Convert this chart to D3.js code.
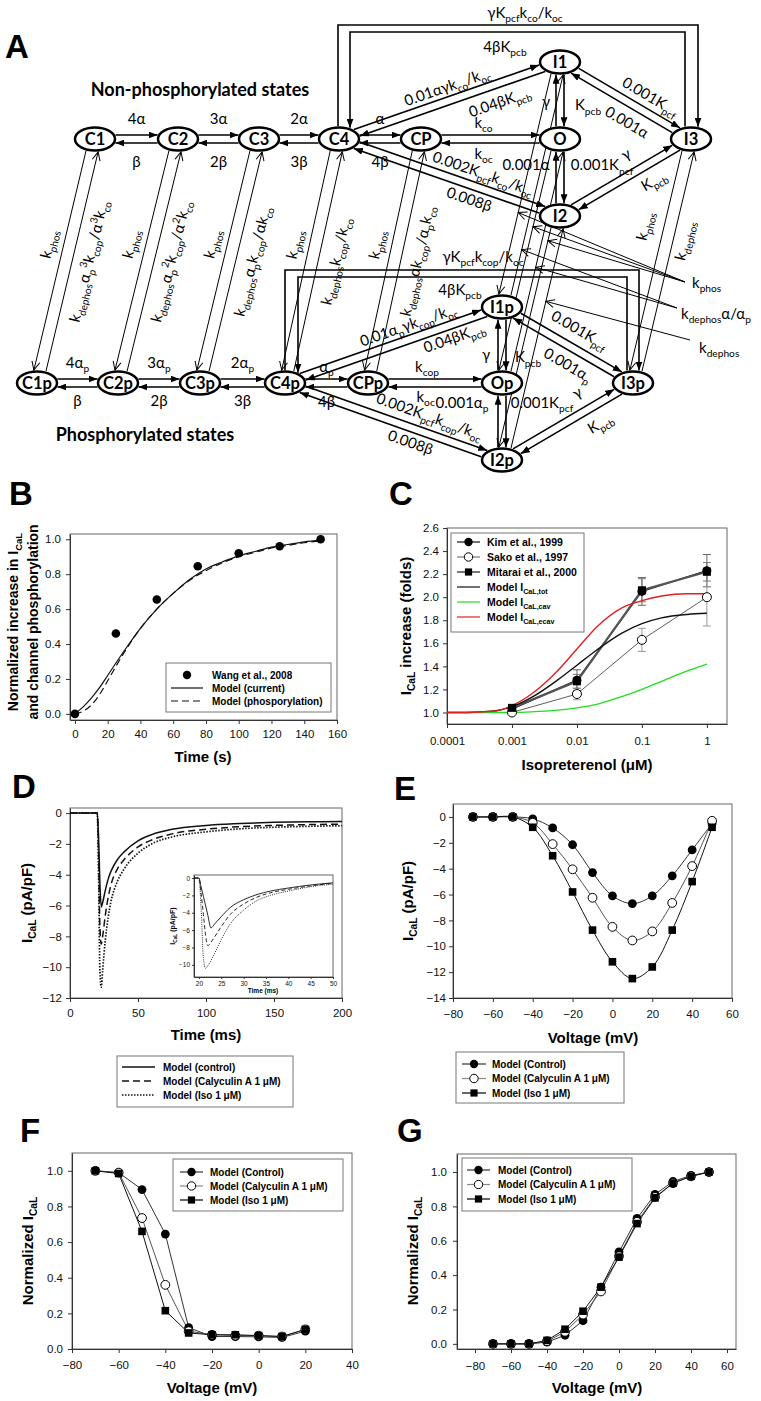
<!DOCTYPE html>
<html><head><meta charset="UTF-8"><title>L-type Ca channel phosphorylation model</title>
<script src="https://cdnjs.cloudflare.com/ajax/libs/d3/7.8.5/d3.min.js"></script>
<style>
  body, html { margin: 0; padding: 0; background: #fff; }
  svg { display: block; }
  text { white-space: pre; }
  .diagram text { font-family: Lato, 'Noto Sans', sans-serif; }
  .chart text { font-family: 'Liberation Sans', Arial, sans-serif; }
</style>
</head>
<body>
<svg id="fig" width="761" height="1401"></svg>
<script>
// ---------- panel A : states and rates ----------
const ratePairs = [ // [from, to, forward rate, backward rate]
  ['C1','C2','4α','β'], ['C2','C3','3α','2β'], ['C3','C4','2α','3β'], ['C4','CP','α','4β'],
  ['CP','O','k_{co}','k_{oc}'], ['O','I1','γ','K_{pcb}'], ['O','I2','0.001K_{pcf}','0.001α'],
  ['I1','I3','0.001K_{pcf}','0.001α'], ['I2','I3','γ','K_{pcb}'],
  ['C4','I1','0.01αγk_{co}/k_{oc}','0.04βK_{pcb}'], ['C4','I2','0.002K_{pcf}k_{co}/k_{oc}','0.008β'],
  ['C1p','C2p','4α_{p}','β'], ['C2p','C3p','3α_{p}','2β'], ['C3p','C4p','2α_{p}','3β'], ['C4p','CPp','α_{p}','4β'],
  ['CPp','Op','k_{cop}','k_{oc}'], ['Op','I1p','γ','K_{pcb}'], ['Op','I2p','0.001K_{pcf}','0.001α_{p}'],
  ['I1p','I3p','0.001K_{pcf}','0.001α_{p}'], ['I2p','I3p','γ','K_{pcb}'],
  ['C4p','I1p','0.01α_{p}γk_{cop}/k_{oc}','0.04βK_{pcb}'], ['C4p','I2p','0.002K_{pcf}k_{cop}/k_{oc}','0.008β']
];
const phosPairs = [ // [non-phosphorylated state, k_phos label, k_dephos label]
  ['C1','k_{phos}','k_{dephos}α_{p}^{3}k_{cop}/α^{3}k_{co}'],
  ['C2','k_{phos}','k_{dephos}α_{p}^{2}k_{cop}/α^{2}k_{co}'],
  ['C3','k_{phos}','k_{dephos}α_{p}k_{cop}/αk_{co}'],
  ['C4','k_{phos}','k_{dephos}k_{cop}/k_{co}'],
  ['CP','k_{phos}','k_{dephos}αk_{cop}/α_{p}k_{co}'],
  ['I1','',''], ['O','',''], ['I2','',''],
  ['I3','k_{phos}','k_{dephos}']
];
const loopRates = [ // [from, to, rate]
  ['C4','I3','γK_{pcf}k_{co}/k_{oc}'], ['I3','C4','4βK_{pcb}'],
  ['C4p','I3p','γK_{pcf}k_{cop}/k_{oc}'], ['I3p','C4p','4βK_{pcb}']
];
const pointerRates = [ // [label, targets: state + which transition]
  ['k_{phos}', [['I1','phos'],['O','phos'],['I2','phos']]],
  ['k_{dephos}α/α_{p}', [['I1','dephos'],['O','dephos']]],
  ['k_{dephos}', [['I2','dephos']]]
];

// ---------- panel B ----------
const bWangTime = [0, 25, 50, 75, 100, 125, 150];
const bWangValue = [0.0, 0.46, 0.655, 0.845, 0.92, 0.96, 1.0];
const bModelTime = [0, 5, 10, 15, 20, 30, 40, 50, 60, 70, 80, 90, 100, 110, 120, 130, 140, 150];
const bModelCurrent = [0, 0.04, 0.09, 0.15, 0.22, 0.36, 0.49, 0.60, 0.69, 0.77, 0.83, 0.87, 0.905, 0.93, 0.955, 0.97, 0.985, 0.995];
const bModelPhos = [0, 0.015, 0.05, 0.11, 0.19, 0.35, 0.49, 0.60, 0.69, 0.765, 0.82, 0.865, 0.90, 0.925, 0.95, 0.965, 0.98, 0.99];

// ---------- panel C ----------
const isoDose = [0.001, 0.01, 0.1, 1];
const kimMean = [1.03, 1.28, 2.05, 2.23];
const kimErr = [0, 0.09, 0.12, 0.14];
const sakoMean = [1.0, 1.16, 1.63, 2.0];
const sakoErr = [0, 0.05, 0.1, 0.25];
const mitaraiMean = [1.04, 1.27, 2.06, 2.22];
const mitaraiErr = [0, 0.06, 0.1, 0.08];
const modelDose = [0.0001, 0.0002, 0.0005, 0.001, 0.002, 0.005, 0.01, 0.02, 0.05, 0.1, 0.2, 0.5, 1];
const modelTot = [1.0, 1.0, 1.01, 1.05, 1.13, 1.28, 1.41, 1.54, 1.69, 1.77, 1.82, 1.85, 1.86];
const modelCav = [1.0, 1.0, 1.0, 1.0, 1.005, 1.02, 1.04, 1.07, 1.14, 1.2, 1.27, 1.36, 1.42];
const modelEcav = [1.0, 1.0, 1.01, 1.06, 1.16, 1.36, 1.55, 1.74, 1.91, 1.97, 2.01, 2.03, 2.03];

// ---------- panel D ----------
const dTime = [0, 19, 20, 21, 22, 23, 24, 26, 28, 30, 35, 40, 50, 60, 75, 100, 125, 150, 175, 200];
const dControl = [0, 0, 0, -1.5, -4.6, -6.1, -5.8, -5.0, -4.3, -3.8, -3.0, -2.5, -1.8, -1.4, -1.05, -0.8, -0.68, -0.6, -0.56, -0.55];
const dCalyculin = [0, 0, 0, -2.6, -7.4, -8.5, -8.0, -6.6, -5.5, -4.7, -3.6, -3.0, -2.2, -1.75, -1.35, -1.05, -0.88, -0.8, -0.75, -0.72];
const dIso = [0, 0, 0, -4.0, -10.3, -11.3, -10.2, -8.2, -6.8, -5.8, -4.4, -3.6, -2.6, -2.0, -1.55, -1.22, -1.02, -0.92, -0.86, -0.82];
const dInsetTime = [19, 20, 20.5, 21, 21.5, 22, 22.7, 23.5, 25, 27, 30, 33, 36, 40, 45, 50];
const dInsetControl = [0, 0, -1.05, -2.1, -3.2, -4.3, -5.75, -5.3, -4.45, -3.4, -2.5, -1.9, -1.5, -1.15, -0.8, -0.55];
const dInsetCalyculin = [0, 0, -1.8, -4.2, -6.6, -7.8, -7.4, -6.8, -5.6, -4.2, -3.0, -2.2, -1.7, -1.3, -0.9, -0.6];
const dInsetIso = [0, 0, -3.6, -9.2, -10.4, -10.1, -9.5, -8.7, -7.1, -5.3, -3.7, -2.6, -2.0, -1.5, -1.0, -0.7];

// ---------- panels E, F, G ----------
const eVoltage = [-70, -60, -50, -40, -30, -20, -10, 0, 10, 20, 30, 40, 50];
const eControl = [0, 0, 0, -0.15, -0.85, -2.15, -4.3, -6.1, -6.7, -6.1, -4.55, -2.55, -0.5];
const eCalyculin = [0, 0, 0, -0.45, -2.1, -4.05, -6.25, -8.5, -9.55, -8.85, -6.65, -3.8, -0.3];
const eIso = [0, 0, 0, -0.8, -3.0, -5.8, -8.75, -11.2, -12.5, -11.6, -8.75, -5.0, -0.8];
const fVoltage = [-70, -60, -50, -40, -30, -20, -10, 0, 10, 20];
const fControl = [1.0, 0.99, 0.895, 0.645, 0.12, 0.07, 0.07, 0.068, 0.065, 0.10];
const fCalyculin = [1.0, 0.99, 0.735, 0.36, 0.10, 0.08, 0.075, 0.075, 0.07, 0.11];
const fIso = [1.0, 0.985, 0.66, 0.215, 0.09, 0.08, 0.08, 0.075, 0.07, 0.11];
const gVoltage = [-70, -60, -50, -40, -30, -20, -10, 0, 10, 20, 30, 40, 50];
const gControl = [0, 0, 0, 0.01, 0.05, 0.135, 0.33, 0.535, 0.73, 0.87, 0.945, 0.98, 1.0];
const gCalyculin = [0, 0, 0, 0.015, 0.07, 0.17, 0.305, 0.51, 0.71, 0.855, 0.935, 0.975, 1.0];
const gIso = [0, 0, 0, 0.02, 0.085, 0.19, 0.33, 0.505, 0.70, 0.85, 0.935, 0.975, 1.0];

// ================= layout =================
const statePos = {
  C1:[95,139], C2:[178,139], C3:[259,139], C4:[339,139], CP:[421,139], O:[560,139], I1:[560,62], I2:[560,216], I3:[691,139],
  C1p:[37,383], C2p:[118,383], C3p:[200,383], C4p:[285,383], CPp:[368,383], Op:[502,383], I1p:[502,307], I2p:[502,460], I3p:[633,383]
};
const pairLayout = [ // [t fwd label, dist fwd, t back label, dist back, rotate]
  [0.5,20,0.5,-23,0], [0.5,20,0.5,-23,0], [0.5,20,0.5,-23,0], [0.5,20,0.5,-23,0],
  [0.45,16,0.45,-15,0], [0.48,14,0.44,-28,0], [0.34,42,0.34,-34,0],
  [0.63,16,0.58,-18,1], [0.58,20,0.65,-17,1],
  [0.51,14,0.7,-18,1], [0.63,15,0.61,-14,1],
  [0.5,20,0.5,-18,0], [0.5,20,0.5,-18,0], [0.5,20,0.5,-18,0], [0.5,16,0.5,-19,0],
  [0.44,16,0.43,-14,0], [0.37,16,0.34,-26,0], [0.26,40,0.25,-40,0],
  [0.52,19,0.57,-17,1], [0.65,20,0.68,-18,1],
  [0.59,14,0.76,-13,1], [0.64,17,0.6,-14,1]
];
const phosLayout = [ // [gap, t k_phos, dist, t k_dephos, dist]
  [-6,0.45,-21,0.48,22], [-6,0.45,-21,0.48,22], [-6,0.45,-21,0.48,22], [-6,0.45,-21,0.48,23],
  [-6,0.45,-21,0.48,22], [-6], [-6], [-6], [-6,0.38,-25,0.4,17]
];
const loopLayout = [ // [x offset at start, x offset at end, top y, label x, label y]
  [-1, 7, 25, 525, 13], [-6, 11, 32, 505, 47],
  [0, 6, 270, 483, 257], [-6, 13, 277, 460, 290]
];
const pointerLayout = [
  {text:[692,283], from:[685,282], t:[0.62,0.365,0.107]},
  {text:[681,314], from:[677,308], t:[0.76,0.52]},
  {text:[699,348], from:[690,340], t:[0.344]}
];

const svg = d3.select('#fig');
const defs = svg.append('defs');
defs.append('marker').attr('id','arrF').attr('markerUnits','userSpaceOnUse')
  .attr('markerWidth',9).attr('markerHeight',7).attr('refX',9).attr('refY',3.5).attr('orient','auto')
  .append('path').attr('d','M0,0 L9,3.5 L0,7 Z').attr('fill','#000');
defs.append('marker').attr('id','arrO').attr('markerUnits','userSpaceOnUse')
  .attr('markerWidth',11).attr('markerHeight',10).attr('refX',9.5).attr('refY',5).attr('orient','auto')
  .append('path').attr('d','M1,1 L9.5,5 L1,9').attr('fill','none').attr('stroke','#000').attr('stroke-width',1);

// text with _{sub} and ^{sup}
function rich(t, str, size) {
  const re = /([_^])\{([^}]*)\}/g;
  let last = 0, m, cur = 0;
  const parts = [];
  while ((m = re.exec(str))) {
    if (m.index > last) parts.push([str.slice(last, m.index), 0]);
    parts.push([m[2], m[1] === '_' ? 1 : -1]);
    last = re.lastIndex;
  }
  if (last < str.length) parts.push([str.slice(last), 0]);
  parts.forEach(([s, k]) => {
    const off = k === 1 ? size * 0.28 : k === -1 ? -size * 0.4 : 0;
    t.append('tspan').attr('dy', off - cur).attr('font-size', k ? size * 0.68 : size).text(s);
    cur = off;
  });
  return t;
}
function label(g, str, x, y, size, ang, anchor, weight) {
  const t = g.append('text').attr('transform', `translate(${x},${y}) rotate(${ang || 0})`)
    .attr('y', size * 0.35).attr('text-anchor', anchor || 'middle').attr('font-size', size)
    .attr('font-weight', weight || 'normal');
  return rich(t, str, size);
}

// ================= panel A =================
const diag = svg.append('g').attr('class', 'diagram');
const RX = 20, RY = 11.5, LS = 15;
function unit(a, b) { const dx = b[0]-a[0], dy = b[1]-a[1], L = Math.hypot(dx, dy); return [dx/L, dy/L]; }
function hitT(p, q, c, exit) {
  const rx = RX + 1.5, ry = RY + 1.5;
  const dx = q[0]-p[0], dy = q[1]-p[1], ex = p[0]-c[0], ey = p[1]-c[1];
  const A = dx*dx/(rx*rx) + dy*dy/(ry*ry), B = 2*(ex*dx/(rx*rx) + ey*dy/(ry*ry)), C = ex*ex/(rx*rx) + ey*ey/(ry*ry) - 1;
  const D = B*B - 4*A*C;
  if (D < 0) return exit ? 0 : 1;
  return exit ? (-B + Math.sqrt(D)) / (2*A) : (-B - Math.sqrt(D)) / (2*A);
}
function edge(a, b, off, mk, sw) {
  const pa = statePos[a], pb = statePos[b];
  const [ux, uy] = unit(pa, pb), nx = uy, ny = -ux;
  const p = [pa[0]+off*nx, pa[1]+off*ny], q = [pb[0]+off*nx, pb[1]+off*ny];
  const t0 = hitT(p, q, pa, true), t1 = hitT(p, q, pb, false);
  diag.append('line')
    .attr('x1', p[0]+(q[0]-p[0])*t0).attr('y1', p[1]+(q[1]-p[1])*t0)
    .attr('x2', p[0]+(q[0]-p[0])*t1).attr('y2', p[1]+(q[1]-p[1])*t1)
    .attr('stroke', '#000').attr('stroke-width', sw).attr('marker-end', `url(#${mk})`);
}
function alongPoint(a, b, t, d) {
  const pa = statePos[a], pb = statePos[b];
  const [ux, uy] = unit(pa, pb);
  return [pa[0] + (pb[0]-pa[0])*t + d*uy, pa[1] + (pb[1]-pa[1])*t - d*ux];
}
function angleOf(a, b) {
  const [ux, uy] = unit(statePos[a], statePos[b]);
  let ang = Math.atan2(uy, ux) * 180 / Math.PI;
  if (ang > 90) ang -= 180;
  if (ang < -90) ang += 180;
  return ang;
}

ratePairs.forEach(([a, b, fwd, back], i) => {
  const [tf, df, tb, db, rot] = pairLayout[i];
  edge(a, b, 4, 'arrF', 1.6);
  edge(b, a, 4, 'arrF', 1.6);
  const ang = rot ? angleOf(a, b) : 0;
  const pf = alongPoint(a, b, tf, df), pbk = alongPoint(a, b, tb, db);
  label(diag, fwd, pf[0], pf[1], LS, ang);
  label(diag, back, pbk[0], pbk[1], LS, ang);
});

phosPairs.forEach(([a, phosLbl, dephosLbl], i) => {
  const b = a + 'p';
  const lay = phosLayout[i], gap = lay[0];
  edge(a, b, gap, 'arrO', 1);
  edge(b, a, gap, 'arrO', 1);
  if (phosLbl) {
    const ang = angleOf(a, b);
    const p1 = alongPoint(a, b, lay[1], lay[2]), p2 = alongPoint(a, b, lay[3], lay[4]);
    label(diag, phosLbl, p1[0], p1[1], LS, ang);
    label(diag, dephosLbl, p2[0], p2[1], LS, ang);
  }
});

function ellipseTop(name, dx) {
  const c = statePos[name], ry = RY + 1.5, rx = RX + 1.5;
  return c[1] - ry * Math.sqrt(Math.max(0, 1 - (dx*dx)/(rx*rx)));
}
loopRates.forEach(([a, b, rate], i) => {
  const [oa, ob, yTop, lx, ly] = loopLayout[i];
  const xa = statePos[a][0] + oa, xb = statePos[b][0] + ob;
  diag.append('path')
    .attr('d', `M${xa},${ellipseTop(a, oa)} L${xa},${yTop} L${xb},${yTop} L${xb},${ellipseTop(b, ob)}`)
    .attr('fill', 'none').attr('stroke', '#000').attr('stroke-width', 1.6).attr('marker-end', 'url(#arrF)');
  label(diag, rate, lx, ly, LS, 0);
});

pointerRates.forEach(([lbl, targets], i) => {
  const lay = pointerLayout[i];
  targets.forEach(([a, which], j) => {
    const b = a + 'p', gap = phosLayout[phosPairs.findIndex(p => p[0] === a)][0];
    const pt = alongPoint(a, b, lay.t[j], which === 'phos' ? gap : -gap);
    diag.append('line').attr('x1', lay.from[0]).attr('y1', lay.from[1]).attr('x2', pt[0]).attr('y2', pt[1])
      .attr('stroke', '#000').attr('stroke-width', 1).attr('marker-end', 'url(#arrO)');
  });
  label(diag, lbl, lay.text[0], lay.text[1], LS, 0, 'start');
});

Object.entries(statePos).forEach(([name, [cx, cy]]) => {
  diag.append('ellipse').attr('cx', cx).attr('cy', cy).attr('rx', RX).attr('ry', RY)
    .attr('fill', '#fff').attr('stroke', '#000').attr('stroke-width', 2.5);
  diag.append('text').attr('x', cx).attr('y', cy + 5.8).attr('text-anchor', 'middle')
    .attr('font-size', 16.5).attr('font-weight', 'bold').text(name);
});
label(diag, 'Non-phosphorylated states', 200, 90, 18, 0, 'middle', 'bold');
label(diag, 'Phosphorylated states', 145, 435, 18, 0, 'middle', 'bold');

// ================= charts =================
const chart = svg.append('g').attr('class', 'chart');
[['A', 5, 58], ['B', 9, 505], ['C', 389, 505], ['D', 12, 798], ['E', 394, 800], ['F', 20, 1142], ['G', 397, 1142]]
  .forEach(([s, x, y]) => chart.append('text').attr('x', x).attr('y', y).attr('font-size', 33).attr('font-weight', 'bold').text(s));

function frame(g, x, y) {
  const [x0, x1] = x.range(), [y0, y1] = y.range();
  g.append('rect').attr('x', x0).attr('y', y1).attr('width', x1 - x0).attr('height', y0 - y1)
    .attr('fill', '#fff').attr('stroke', '#666').attr('stroke-width', 1);
}
function axes(g, x, y, o) {
  const ax = g.append('g').attr('transform', `translate(0,${y.range()[0]})`)
    .call(d3.axisBottom(x).tickValues(o.xt).tickFormat(o.xf).tickSize(o.ts || 4).tickSizeOuter(0).tickPadding(o.xp));
  const ay = g.append('g').attr('transform', `translate(${x.range()[0]},0)`)
    .call(d3.axisLeft(y).tickValues(o.yt).tickFormat(o.yf).tickSize(o.ts || 4).tickSizeOuter(0).tickPadding(o.yp));
  [ax, ay].forEach(a => {
    a.attr('font-family', null).attr('font-size', o.fs || 11.5);
    a.select('.domain').attr('stroke', '#333');
    a.selectAll('.tick line').attr('stroke', '#333');
    a.selectAll('text').attr('fill', '#111');
  });
}
function title(g, str, x, y, size, rot) {
  return label(g, str, x, y, size || 15, rot || 0, 'middle', 'bold');
}
function symbol(g, type, cx, cy, s) {
  s = s || 4.4;
  if (type === 'square') g.append('rect').attr('x', cx - s).attr('y', cy - s).attr('width', 2*s).attr('height', 2*s).attr('fill', '#000');
  else g.append('circle').attr('cx', cx).attr('cy', cy).attr('r', s)
    .attr('fill', type === 'open' ? '#fff' : '#000').attr('stroke', '#000').attr('stroke-width', type === 'open' ? 1 : 0);
}
function legend(g, box, rows, o) {
  g.append('rect').attr('x', box[0]).attr('y', box[1]).attr('width', box[2] - box[0]).attr('height', box[3] - box[1])
    .attr('fill', '#fff').attr('stroke', '#777').attr('stroke-width', 1);
  rows.forEach((r, i) => {
    const yy = o.y0 + i * o.dy;
    if (r.color) g.append('line').attr('x1', o.l0).attr('x2', o.l1).attr('y1', yy).attr('y2', yy)
      .attr('stroke', r.color).attr('stroke-width', r.width || 1.2).attr('stroke-dasharray', r.dash || null);
    if (r.sym) symbol(g, r.sym, (o.l0 + o.l1) / 2, yy, r.sym === 'square' ? 3.6 : 4.2);
    label(g, r.text, o.tx, yy, o.fs || 10.5, 0, 'start', 'bold');
  });
}
const f1 = d3.format('.1f');

// ----- B -----
{
  const g = chart.append('g');
  const x = d3.scaleLinear().domain([-3, 160]).range([70, 337]);
  const y = d3.scaleLinear().domain([-0.035, 1.03]).range([720, 534]);
  frame(g, x, y);
  axes(g, x, y, {xt: d3.range(0, 161, 20), xf: d3.format('d'), xp: 6, yt: d3.range(0, 1.01, 0.2), yf: f1, yp: 5});
  const ln = d3.line().x(d => x(d[0])).y(d => y(d[1])).curve(d3.curveMonotoneX);
  g.append('path').attr('d', ln(d3.zip(bModelTime, bModelCurrent))).attr('fill', 'none').attr('stroke', '#111').attr('stroke-width', 1.2);
  g.append('path').attr('d', ln(d3.zip(bModelTime, bModelPhos))).attr('fill', 'none').attr('stroke', '#111').attr('stroke-width', 1.2).attr('stroke-dasharray', '7,4');
  bWangTime.forEach((t, i) => symbol(g, 'circle', x(t), y(bWangValue[i]), 4.3));
  legend(g, [166, 663, 331, 712], [
    {sym: 'circle', text: 'Wang et al., 2008'},
    {color: '#111', text: 'Model (current)'},
    {color: '#111', dash: '7,4', text: 'Model (phosporylation)'}
  ], {y0: 675, dy: 13, l0: 171, l1: 203, tx: 212, fs: 10});
  title(g, 'Time (s)', 203, 757);
  title(g, 'Normalized increase in I_{CaL}', 13, 622, 14, -90);
  title(g, 'and channel phosphorylation', 33, 622, 14, -90);
}

// ----- C -----
{
  const g = chart.append('g');
  const x = d3.scaleLog().domain([0.0001, 2.04]).range([447, 727]);
  const y = d3.scaleLinear().domain([0.9, 2.6]).range([724, 528]);
  frame(g, x, y);
  axes(g, x, y, {xt: [0.0001, 0.001, 0.01, 0.1, 1], xf: d => String(+d.toPrecision(1)), xp: 9,
    yt: d3.range(1.0, 2.61, 0.2), yf: f1, yp: 4});
  const series = [
    {m: kimMean, e: kimErr, sym: 'circle', col: '#111', w: 1.4, ec: '#666'},
    {m: sakoMean, e: sakoErr, sym: 'open', col: '#333', w: 0.8, ec: '#999'},
    {m: mitaraiMean, e: mitaraiErr, sym: 'square', col: '#555', w: 2.2, ec: '#777'}
  ];
  series.forEach(s => s.m.forEach((v, i) => {
    if (!s.e[i]) return;
    const cx = x(isoDose[i]);
    g.append('path').attr('d', `M${cx},${y(v - s.e[i])}V${y(v + s.e[i])}M${cx-4},${y(v - s.e[i])}H${cx+4}M${cx-4},${y(v + s.e[i])}H${cx+4}`)
      .attr('stroke', s.ec).attr('stroke-width', 1).attr('fill', 'none');
  }));
  const ln = d3.line().x(d => x(d[0])).y(d => y(d[1]));
  series.forEach(s => g.append('path').attr('d', ln(d3.zip(isoDose, s.m))).attr('fill', 'none').attr('stroke', s.col).attr('stroke-width', s.w));
  const sm = d3.line().x(d => x(d[0])).y(d => y(d[1])).curve(d3.curveMonotoneX);
  [[modelTot, '#111'], [modelCav, '#22dd22'], [modelEcav, '#e02020']].forEach(([v, c]) =>
    g.append('path').attr('d', sm(d3.zip(modelDose, v))).attr('fill', 'none').attr('stroke', c).attr('stroke-width', 1.4));
  series.forEach(s => s.m.forEach((v, i) => symbol(g, s.sym, x(isoDose[i]), y(v), s.sym === 'square' ? 4 : 4.5)));
  legend(g, [451, 533, 584, 632], [
    {sym: 'circle', color: '#111', text: 'Kim et al., 1999'},
    {sym: 'open', color: '#333', width: 0.8, text: 'Sako et al., 1997'},
    {sym: 'square', color: '#777', width: 2, text: 'Mitarai et al., 2000'},
    {color: '#111', text: 'Model I_{CaL,tot}'},
    {color: '#22dd22', text: 'Model I_{CaL,cav}'},
    {color: '#e02020', text: 'Model I_{CaL,ecav}'}
  ], {y0: 542, dy: 15, l0: 457, l1: 480, tx: 487, fs: 10.5});
  title(g, 'Isopreterenol (μM)', 587, 765);
  title(g, 'I_{CaL} increase (folds)', 406, 626, 15, -90);
}

// ----- D -----
{
  const g = chart.append('g');
  const x = d3.scaleLinear().domain([0, 200]).range([70, 342]);
  const y = d3.scaleLinear().domain([-12, 0.33]).range([998, 808]);
  frame(g, x, y);
  axes(g, x, y, {xt: d3.range(0, 201, 50), xf: d3.format('d'), xp: 7, yt: d3.range(-12, 0.1, 2), yf: d3.format('d'), yp: 4});
  const styles = [[null, 1.5], ['7,4', 1.5], ['1.5,1.5', 1.7]];
  const ln = d3.line().x(d => x(d[0])).y(d => y(d[1])).curve(d3.curveMonotoneX);
  [dControl, dCalyculin, dIso].forEach((v, i) =>
    g.append('path').attr('d', ln(d3.zip(dTime, v))).attr('fill', 'none').attr('stroke', '#111')
      .attr('stroke-width', styles[i][1]).attr('stroke-dasharray', styles[i][0]));
  // inset
  const xi = d3.scaleLinear().domain([18.9, 50]).range([194, 333]);
  const yi = d3.scaleLinear().domain([-11.4, 0.35]).range([977, 875]);
  frame(g, xi, yi);
  axes(g, xi, yi, {xt: d3.range(20, 51, 5), xf: d3.format('d'), xp: 2, yt: d3.range(-10, 0.1, 2), yf: d3.format('d'), yp: 2, ts: 2, fs: 6.5});
  const li = d3.line().x(d => xi(d[0])).y(d => yi(d[1])).curve(d3.curveMonotoneX);
  [[dInsetControl, null], [dInsetCalyculin, '4,2.5'], [dInsetIso, '1,1.2']].forEach(([v, dash]) =>
    g.append('path').attr('d', li(d3.zip(dInsetTime, v))).attr('fill', 'none').attr('stroke', '#111')
      .attr('stroke-width', 0.9).attr('stroke-dasharray', dash));
  title(g, 'Time (ms)', 263, 991, 6.5);
  title(g, 'I_{CaL} (pA/pF)', 173, 926, 7, -90);
  title(g, 'Time (ms)', 206, 1035);
  title(g, 'I_{CaL} (pA/pF)', 27, 903, 15, -90);
  legend(g, [117, 1056, 293, 1107], [
    {color: '#111', width: 1.5, text: 'Model (control)'},
    {color: '#111', width: 1.3, dash: '7,4', text: 'Model (Calyculin A 1 μM)'},
    {color: '#111', width: 1.3, dash: '1.5,1.5', text: 'Model (Iso 1 μM)'}
  ], {y0: 1067, dy: 14, l0: 122, l1: 155, tx: 163, fs: 10});
}

// ----- E, F, G -----
const ivRows = [
  {sym: 'circle', color: '#333', text: 'Model (Control)'},
  {sym: 'open', color: '#888', text: 'Model (Calyculin A 1 μM)'},
  {sym: 'square', color: '#000', text: 'Model (Iso 1 μM)'}
];
function ivPanel(o) {
  const g = chart.append('g');
  const x = d3.scaleLinear().domain(o.xd).range(o.xr);
  const y = d3.scaleLinear().domain(o.yd).range(o.yr);
  frame(g, x, y);
  axes(g, x, y, {xt: o.xt, xf: d3.format('d'), xp: o.xp, yt: o.yt, yf: o.yf, yp: o.yp});
  const ln = d3.line().x(d => x(d[0])).y(d => y(d[1])).curve(o.curve || d3.curveLinear);
  const cols = ['#333', '#555', '#111'];
  o.series.forEach((v, i) => g.append('path').attr('d', ln(d3.zip(o.xs, v))).attr('fill', 'none').attr('stroke', cols[i]).attr('stroke-width', 1));
  ['circle', 'open', 'square'].forEach((s, i) => o.series[i].forEach((v, j) => symbol(g, s, x(o.xs[j]), y(v), s === 'square' ? 3.8 : 4.4)));
  legend(g, o.lb, ivRows, o.lo);
  title(g, 'Voltage (mV)', o.xtitle[0], o.xtitle[1]);
  title(g, o.ytitle, o.yp2[0], o.yp2[1], 15, -90);
}
ivPanel({xd: [-80, 60], xr: [453, 732], yd: [-14, 1], yr: [998, 804], xt: d3.range(-80, 61, 20), xp: 8,
  yt: d3.range(-14, 0.1, 2), yf: d3.format('d'), yp: 3, xs: eVoltage, series: [eControl, eCalyculin, eIso],
  curve: d3.curveCatmullRom.alpha(0.5), lb: [456, 1052, 624, 1103], lo: {y0: 1064, dy: 14.5, l0: 462, l1: 486, tx: 492, fs: 10},
  xtitle: [593, 1038], ytitle: 'I_{CaL} (pA/pF)', yp2: [408, 901]});
ivPanel({xd: [-80, 40], xr: [72, 352], yd: [0, 1.1], yr: [1349, 1153], xt: d3.range(-80, 41, 20), xp: 8,
  yt: d3.range(0, 1.01, 0.2), yf: f1, yp: 5, xs: fVoltage, series: [fControl, fCalyculin, fIso],
  lb: [173, 1159, 343, 1211], lo: {y0: 1172, dy: 14, l0: 180, l1: 203, tx: 210, fs: 10},
  xtitle: [212, 1388], ytitle: 'Normalized I_{CaL}', yp2: [28, 1251]});
ivPanel({xd: [-90, 65], xr: [457, 736], yd: [-0.03, 1.105], yr: [1349, 1154], xt: d3.range(-80, 61, 20), xp: 9,
  yt: d3.range(0, 1.01, 0.2), yf: f1, yp: 6, xs: gVoltage, series: [gControl, gCalyculin, gIso],
  lb: [462, 1158, 632, 1211], lo: {y0: 1170, dy: 14.5, l0: 467, l1: 490, tx: 498, fs: 10},
  xtitle: [597, 1388], ytitle: 'Normalized I_{CaL}', yp2: [413, 1251]});
</script>
</body></html>
